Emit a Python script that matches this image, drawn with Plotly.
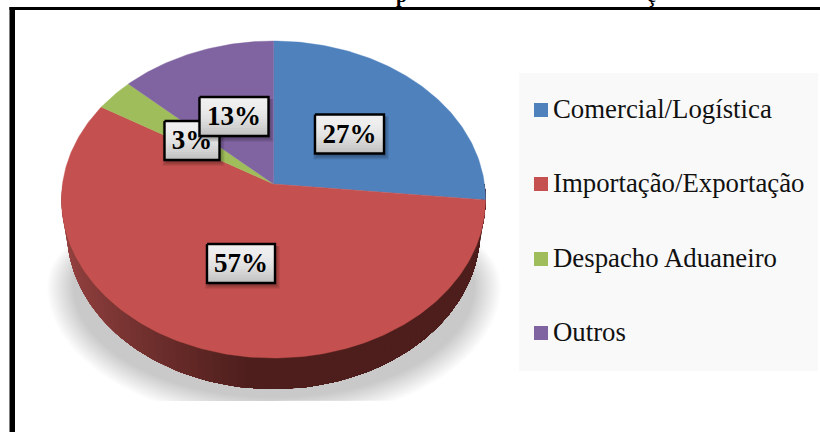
import numpy as np
import plotly.graph_objects as go

categories = ["Comercial/Logística", "Importação/Exportação", "Despacho Aduaneiro", "Outros"]
values = [26.6, 57.0, 3.3, 13.1]
colors = ["#4f81bd", "#c4514f", "#9fbd5b", "#8064a2"]
title_fragments = ["p", "ç"]

W, H = 820, 432
CX, CY = 273.5, 184.0
A, B, K = 211.0, 157.0, 0.098
DEPTH = 31
WALL_TAPER = 0.975
FONT = "Liberation Serif"


def rim(theta):
    """Perspective projection of the pie's circular rim (theta clockwise from top)."""
    u, v = np.sin(theta), np.cos(theta)
    d = 1 + K * v
    return CX + A * u / d, CY - B * v / d


def poly(x, y, color, line=None, width=0):
    return go.Scatter(
        x=list(x), y=list(y), mode="lines", fill="toself", fillcolor=color,
        line=dict(color=line or "rgba(0,0,0,0)", width=width),
        hoverinfo="skip", showlegend=False,
    )


def rect(x0, y0, x1, y1, color, line=None, width=0):
    return poly([x0, x1, x1, x0, x0], [y0, y0, y1, y1, y0], color, line, width)


traces = []

# Soft shadow beneath the disc, cut off flat at its lower edge
SHADOW_BOTTOM = 401
t = np.linspace(0, 2 * np.pi, 240)
layers = 18
for i in range(layers):
    f = i / (layers - 1)
    rx = 227 - 26 * f
    ry_low = 136 - 24 * f
    ry_up = 98 - 10 * f
    c = np.cos(t)
    sy = 286 + ry_low * np.clip(c, 0, None) - ry_up * np.clip(-c, 0, None)
    sx = 274 + rx * np.sin(t)
    traces.append(poly(sx, np.minimum(sy, SHADOW_BOTTOM), "rgba(0,0,0,0.0135)"))

# Side wall of the disc; each band overlaps the next to avoid seams
th = np.linspace(3 * np.pi / 2, np.pi / 2, 90)
dark = np.array([0x4d, 0x1e, 0x1c])
light = np.array([0x96, 0x43, 0x41])
for i in range(len(th) - 1):
    x, y = rim(th[i:])
    xb = CX + (x - CX) * WALL_TAPER
    mid = (x[0] - 62) / (250 - 62)
    c = light + (dark - light) * np.clip(mid, 0, 1) ** 0.8
    col = "rgb(%d,%d,%d)" % tuple(c)
    traces.append(poly([*x, *xb[::-1], x[0]], [*y, *(y[::-1] + DEPTH), y[0]], col))

# Wedges of the top face, built from the values
total = sum(values)
start = 0.0
for name, val, col in zip(categories, values, colors):
    end = start + val / total * 2 * np.pi
    ang = np.linspace(start, end, max(int(val * 4), 12))
    rx_, ry_ = rim(ang)
    traces.append(poly([CX, *rx_, CX], [CY, *ry_, CY], col, col, 0.4))
    start = end

# Value label boxes: (left, top, right, bottom), 3% is overlapped by 13%
BOXES = {0: (315, 114.5, 384, 153.5), 1: (207, 244, 275, 283),
         2: (164.5, 121, 219.5, 160), 3: (199.5, 97, 268.5, 136)}
for idx in [0, 1, 2, 3]:
    lab = f"{values[idx] / total * 100:.0f}%"
    x0, y0, x1, y1 = BOXES[idx]
    for s in range(5, 0, -1):
        traces.append(rect(x0 - s + 3, y0 + 2, x1 + s, y1 + s + 1, "rgba(0,0,0,0.07)"))
    n = 14
    for j in range(n):
        g = int(240 - 48 * (j / (n - 1)) ** 2)
        ya = y0 + (y1 - y0) * j / n
        traces.append(rect(x0, ya, x1, y1, f"rgb({g},{g},{g})"))
    traces.append(go.Scatter(x=[x0, x1, x1, x0, x0], y=[y0, y0, y1, y1, y0], mode="lines",
                             line=dict(color="#000000", width=2.4), hoverinfo="skip", showlegend=False))
    traces.append(go.Scatter(x=[(x0 + x1) / 2], y=[(y0 + y1) / 2 + 2], mode="text", text=[f"<b>{lab}</b>"],
                             textposition="middle center", textfont=dict(family=FONT, size=27, color="#000000"),
                             hoverinfo="skip", showlegend=False))

# Legend panel
traces.insert(0, rect(519, 73, 818, 371, "#f9f9f9"))
rows = [110, 184, 259, 333]
traces.append(go.Scatter(x=[541] * 4, y=rows, mode="markers",
                         marker=dict(symbol="square", size=14, color=colors, line=dict(width=0)),
                         hoverinfo="skip", showlegend=False))
traces.append(go.Scatter(x=[553] * 4, y=[r + 1.5 for r in rows], mode="text", text=categories,
                         textposition="middle right",
                         textfont=dict(family=FONT, size=26.8, color="#111111"),
                         hoverinfo="skip", showlegend=False))

# Outer frame: top and left rules
traces.append(rect(9.5, 7, 820, 10, "#000000"))
traces.append(rect(9.5, 7, 15, 432, "#000000"))

fig = go.Figure(traces)
fig.update_layout(
    width=W, height=H, margin=dict(l=0, r=0, t=0, b=0),
    paper_bgcolor="#ffffff", plot_bgcolor="#ffffff", showlegend=False,
    xaxis=dict(range=[0, W], visible=False, fixedrange=True),
    yaxis=dict(range=[H, 0], visible=False, fixedrange=True),
    annotations=[
        dict(xref="paper", yref="paper", x=px / W, y=1.0, yshift=5, yanchor="middle", xanchor="center",
             showarrow=False, text=f"<b>{ch}</b>", font=dict(family=FONT, size=20, color="#000000"))
        for ch, px in zip(title_fragments, [401, 651])
    ],
)
fig.write_html("out.html", config={"displayModeBar": False},
               post_script="document.body.style.margin='0';document.documentElement.style.overflow='hidden';")
